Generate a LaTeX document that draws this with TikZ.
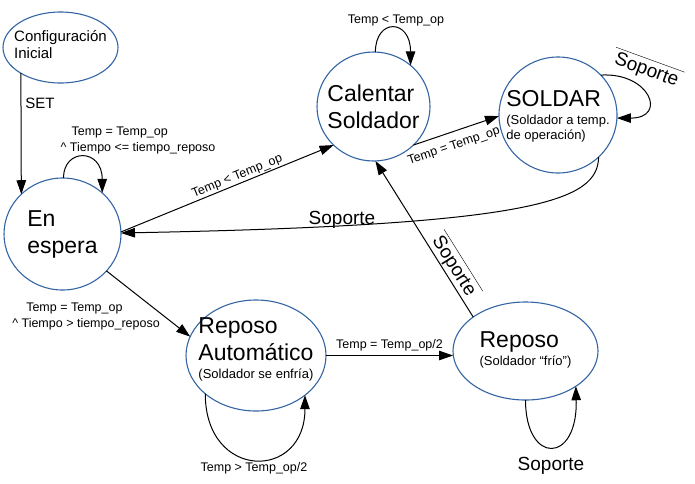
\documentclass[tikz,border=0pt]{standalone}
\usepackage{fontspec}
\setmainfont{Liberation Sans}
\usetikzlibrary{arrows.meta,shapes.geometric}

\definecolor{azulestado}{HTML}{3465A4}

% texto pequeno bajo el nombre del estado
\newcommand{\subtexto}[1]{{\fontsize{13}{15}\selectfont #1}}
% evento negado (barra encima)
\newcommand{\negado}[1]{$\overline{\mbox{\rule{0pt}{15pt}\,#1\,}}$}

\begin{document}
\begin{tikzpicture}[
  x=1pt, y=-1pt,
  >={Triangle[length=14pt, width=9.5pt]},
  line width=1pt,
  estado/.style={ellipse, draw=azulestado, line width=1.1pt, inner sep=0pt, outer sep=0pt},
  nombre/.style={align=left, font=\fontsize{23}{27}\selectfont},
  cond/.style={font=\fontsize{12.5}{16}\selectfont, inner sep=1pt},
  evento/.style={font=\fontsize{19}{22}\selectfont, inner sep=1pt},
]
  \useasboundingbox (0,0) rectangle (695,483);

  % estados
  \node[estado, minimum width=115pt, minimum height=71pt]  (conf)   at (60.5,47.5) {};
  \node[estado, minimum width=117pt, minimum height=112pt] (espera) at (62.5,234) {};
  \node[estado, minimum width=113pt, minimum height=109pt] (cal)    at (373.5,106.5) {};
  \node[estado, minimum width=118pt, minimum height=116pt] (soldar) at (558,115) {};
  \node[estado, minimum width=140pt, minimum height=111pt] (rauto)  at (256,355.5) {};
  \node[estado, minimum width=145pt, minimum height=98pt]  (reposo) at (525.5,351) {};

  \node[nombre, font=\fontsize{15}{17}\selectfont, yshift=3pt] (conf-t) at (conf) {Configuración\\Inicial};
  \node[nombre] (espera-t) at (espera) {En\\espera};
  \node[nombre] (cal-t) at (cal) {Calentar\\Soldador};
  \node[nombre, yshift=-1pt] (soldar-t) at (soldar)
       {SOLDAR\\[-9pt]\subtexto{(Soldador a temp.}\\[-12pt]\subtexto{de operación)}};
  \node[nombre, yshift=6pt] (rauto-t) at (rauto)
       {Reposo\\Automático\\[-9pt]\subtexto{(Soldador se enfría)}};
  \node[nombre, yshift=1pt] (reposo-t) at (reposo) {Reposo\\[-9pt]\subtexto{(Soldador “frío”)}};

  % transiciones
  \draw[->] (conf.213) -- (espera.136);
  \node[cond, font=\fontsize{15}{18}\selectfont] (set) at (40,103) {SET};

  \draw[->] (espera.89) .. controls +(0,-30) and +(0,-45) .. (espera.46);
  \node[cond, align=left] (c-espera) at (138,140)
       {\hspace{11pt}Temp = Temp\_op\\\textasciicircum{} Tiempo <= tiempo\_reposo};

  \draw[->] (espera.2) -- node[cond, sloped, above, pos=0.56] (c-frio) {Temp < Temp\_op} (cal.224);

  \draw[->] (cal.88) .. controls +(0,-34) and +(0,-47) .. (cal.48);
  \node[cond] (c-cal) at (396,20) {Temp < Temp\_op};

  \draw[->] (cal.316) -- node[cond, sloped, below=7pt, pos=0.42] (c-listo) {Temp = Temp\_op} (soldar.181);

  \draw[->] (soldar.43) .. controls +(49,-3) and +(51,0) .. (soldar.357);
  \node[evento, rotate=-20] (s-soldar) at (647,69) {\negado{Soporte}};

  \draw[->] (soldar.314) .. controls +(-1,43) and +(419,-8) .. (espera.1);
  \node[evento] (s-espera) at (342,220) {Soporte};

  \draw[->] (reposo.147) -- node[evento, sloped, above, pos=0.29] (s-reposo) {\negado{Soporte}} (cal.272);

  \draw[->] (espera.-40) -- (rauto.164);
  \node[cond, align=left] (c-reposo) at (86,316)
       {\hspace{14pt}Temp = Temp\_op\\\textasciicircum{} Tiempo > tiempo\_reposo};

  \draw[->] (rauto.217) .. controls +(0,87) and +(0,86) .. (rauto.321.5);
  \node[cond] (c-rauto) at (254,468) {Temp > Temp\_op/2};

  \draw[->] (rauto.east) -- node[cond, above=3pt] (c-enfria) {Temp = Temp\_op/2} (rauto.east -| reposo.west);

  \draw[->] (reposo.south) .. controls +(0,65) and +(2,78) .. (reposo.325);
  \node[evento] (s-frio) at (551,466) {Soporte};
\end{tikzpicture}
\end{document}
